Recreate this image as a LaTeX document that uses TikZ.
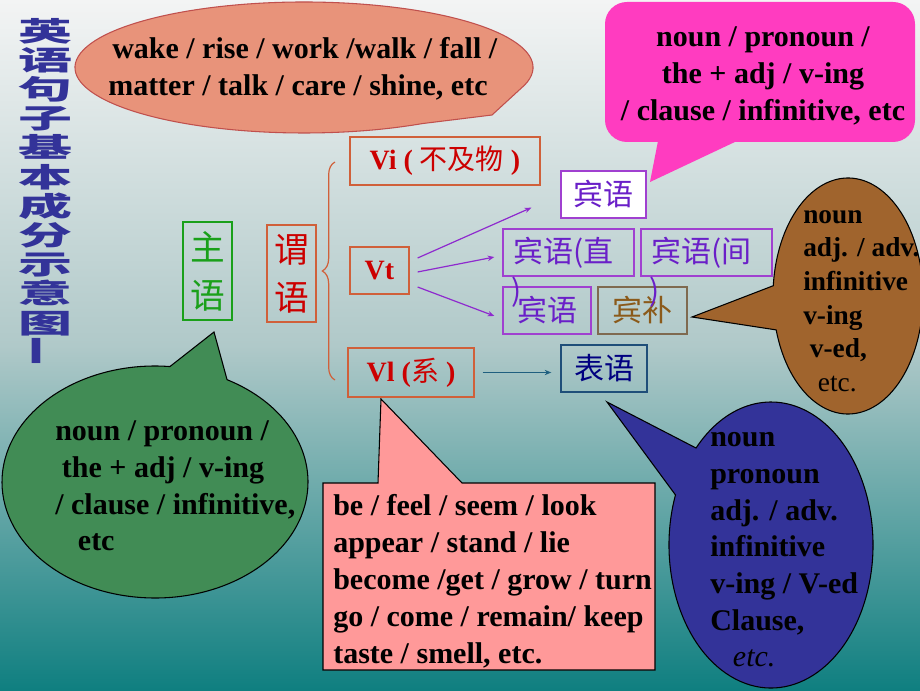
\documentclass[tikz,border=0pt]{standalone}
\usepackage{fontspec}
\setmainfont{Liberation Serif}
\newfontfamily\cjk{Noto Sans CJK SC}
\usetikzlibrary{arrows.meta,decorations.pathreplacing,calc}
\definecolor{bgtop}{HTML}{F3F4F4}
\definecolor{bgmid}{HTML}{B0C9C9}
\definecolor{bgbot}{HTML}{0F7F80}
\definecolor{salmonfill}{HTML}{E8937A}
\definecolor{salmonline}{HTML}{C0504D}
\definecolor{magfill}{HTML}{FF3CC0}
\definecolor{brownfill}{HTML}{A0642D}
\definecolor{bluefill}{HTML}{333399}
\definecolor{pinkfill}{HTML}{FF9999}
\definecolor{greenfill}{HTML}{418C55}
\definecolor{titleblue}{HTML}{333399}
\definecolor{vred}{HTML}{CC0000}
\definecolor{vline}{HTML}{D0603A}
\definecolor{zgreen}{HTML}{1AA01A}
\definecolor{purpletext}{HTML}{6A1FC8}
\definecolor{purpleline}{HTML}{A040D0}
\definecolor{bbrown}{HTML}{8B5A1A}
\definecolor{bbline}{HTML}{7F6A50}
\definecolor{navytext}{HTML}{000080}
\definecolor{navyline}{HTML}{1F4E79}
\definecolor{arrowpurple}{HTML}{8E2ACE}
\definecolor{arrowteal}{HTML}{1F5F7F}
\newcommand\ttlchar[1]{\scalebox{2}[1]{#1}}
\begin{document}
\begin{tikzpicture}[x=0.75pt,y=0.75pt,
  bigbox/.style={line width=1pt, inner sep=0pt, align=center, minimum width=36.75pt, font=\cjk\fontsize{26}{36}\selectfont},
  vbox/.style={draw=vline, line width=1pt, inner sep=0pt, text=vred, font=\bfseries\fontsize{21}{25}\selectfont},
  pbox/.style={draw=purpleline, line width=1pt, inner sep=0pt, text=purpletext, minimum height=35.25pt, font=\cjk\fontsize{22.5}{27}\selectfont},
  partext/.style={inner sep=0pt, text=purpletext, font=\cjk\fontsize{22.5}{27}\selectfont},
  calltext/.style={inner sep=0pt, align=left, font=\bfseries\fontsize{22.5}{27.75}\selectfont},
  callshape/.style={draw=black, line width=0.8pt},
  parrow/.style={draw=arrowpurple, line width=0.9pt, -{Stealth[length=5pt,width=4pt]}},
  tarrow/.style={draw=arrowteal, line width=0.9pt, -{Stealth[length=5pt,width=4pt]}}]
\useasboundingbox (0,0) rectangle (920,690);
\shade[top color=bgtop, bottom color=bgbot, middle color=bgmid] (0,0) rectangle (920,690);

% title
\node[inner sep=0pt, align=center, text=titleblue, font=\cjk\bfseries\fontsize{20.25}{21.9}\selectfont] (title) at (45,499)
 {\ttlchar{英}\\\ttlchar{语}\\\ttlchar{句}\\\ttlchar{子}\\\ttlchar{基}\\\ttlchar{本}\\\ttlchar{成}\\\ttlchar{分}\\\ttlchar{示}\\\ttlchar{意}\\\ttlchar{图}\\\ttlchar{\rotatebox{90}{一}}};

% callout shapes
\filldraw[fill=salmonfill, draw=salmonline, line width=0.8pt]
  ($(304,622.5)+(-15.5:229 and 65.5)$) arc[start angle=-15.5, end angle=301, x radius=229, y radius=65.5] -- (492,575) -- cycle;
\fill[magfill, rounded corners=16.5pt] (605,548) rectangle (915,688);
\fill[magfill] (658,549) -- (650,508) -- (737,549) -- cycle;
\filldraw[fill=brownfill, callshape]
  ($(848,394)+(196.7:75 and 118)$) arc[start angle=196.7, end angle=535, x radius=75, y radius=118] -- (692,373) -- cycle;
\filldraw[fill=bluefill, callshape]
  ($(771,145)+(159.5:102 and 143)$) arc[start angle=159.5, end angle=497.3, x radius=102, y radius=143] -- (607,288) -- cycle;
\filldraw[fill=greenfill, callshape]
  ($(155,208)+(84.4:153 and 116)$) arc[start angle=84.4, end angle=421.9, x radius=153, y radius=116] -- (214,358) -- cycle;
\filldraw[fill=pinkfill, callshape]
  (323,207) -- (378,207) -- (381,291) -- (462,207) -- (655,207) -- (655,20) -- (323,20) -- cycle;

% callout texts
\node[calltext, anchor=west] (t1) at (108,621) {\hspace{3pt}wake / rise / work /walk / fall /\\matter / talk / care / shine, etc};
\node[calltext, align=center] (t2) at (763,614) {noun / pronoun /\\the + adj / v-ing\\/ clause / infinitive, etc};
\node[calltext, anchor=west, font=\bfseries\fontsize{20.5}{25.2}\selectfont] (t3) at (803,389)
  {noun\\adj. / adv.\\infinitive\\v-ing\\\hspace{5pt}v-ed,\\\hspace{11pt}{\mdseries etc.}};
\node[calltext, anchor=west, font=\bfseries\fontsize{22.5}{27.5}\selectfont] (t4) at (710,140)
  {noun\\pronoun\\adj. / adv.\\infinitive\\v-ing / V-ed\\Clause,\\\hspace{17pt}{\mdseries\itshape etc.}};
\node[calltext, anchor=west] (t5) at (333,109)
  {be / feel / seem / look\\appear / stand / lie\\become /get / grow / turn\\go / come / remain/ keep\\taste / smell, etc.};
\node[calltext, anchor=west, font=\bfseries\fontsize{22.5}{27.5}\selectfont] (t6) at (55,204)
  {noun / pronoun /\\\hspace{5pt}the + adj / v-ing\\/ clause / infinitive,\\\hspace{17pt}etc};

% main boxes
\node[bigbox, draw=zgreen, text=zgreen, minimum height=73.5pt] (subj) at (207.5,419) {主\\语};
\node[bigbox, draw=vline, text=vred, minimum height=72.75pt] (verb) at (291.5,416.5) {谓\\语};
\coordinate (bb) at (335,310);
\coordinate (bt) at (335,528);
\draw[vline, line width=0.9pt, decorate, decoration={brace, amplitude=9.5pt}] (bb) -- (bt);

\node[vbox, minimum width=142.5pt, minimum height=36pt] (vi) at (445,529) {Vi ( {\cjk\mdseries 不及物} )};
\node[vbox, minimum width=44.25pt, minimum height=35.25pt] (vt) at (379.5,419.5) {Vt};
\node[vbox, minimum width=94.5pt, minimum height=36.75pt] (vl) at (411,317.5) {Vl ({\cjk\mdseries 系} )};

\node[pbox, fill=white, minimum width=63.75pt] (obj1) at (603.5,495.5) {宾语};
\node[pbox, minimum width=98.25pt] (dobj) at (568.5,437.5) {\hspace{-7pt}宾语(直};
\node[pbox, minimum width=98.25pt] (iobj) at (706.5,437.5) {\hspace{-7pt}宾语(间};
\node[pbox, minimum width=66pt] (obj2) at (547,379.5) {宾语};
\node[pbox, draw=bbline, text=bbrown, minimum width=66.75pt] (ocomp) at (642.5,379.5) {宾补};
\node[pbox, draw=navyline, text=navytext, minimum width=64.5pt] (pred) at (604,321.5) {表语};
\node[partext] (dpar) at (517,398) {)};
\node[partext] (ipar) at (655,398) {)};

% arrows
\draw[parrow] ([xshift=6pt,yshift=9.4pt]vt.east) -- ([xshift=-21.75pt,yshift=8.25pt]obj1.south west);
\draw[parrow] ([xshift=6pt,yshift=-1.1pt]vt.east) -- ([xshift=-6pt,yshift=-3.4pt]dobj.west);
\draw[parrow] ([xshift=6pt,yshift=-12.4pt]vt.east) -- ([xshift=-6pt,yshift=-4.1pt]obj2.west);
\draw[tarrow, shorten <=6pt, shorten >=6.75pt] (vl.east) -- (vl.east -| pred.west);
\end{tikzpicture}
\end{document}
